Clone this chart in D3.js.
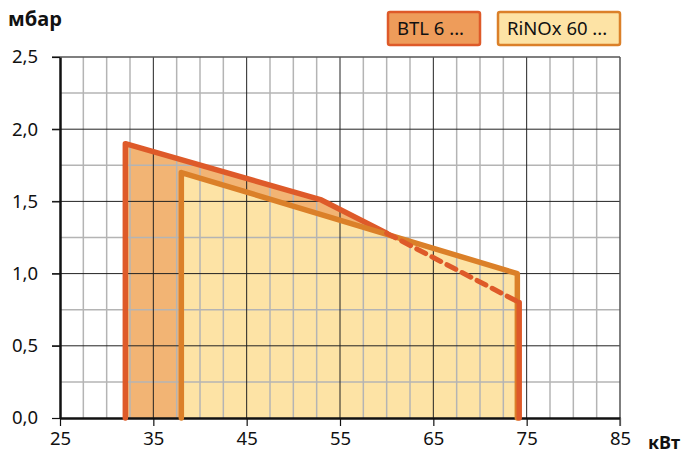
<!DOCTYPE html>
<html lang="ru">
<head>
  <meta charset="utf-8">
  <title>BTL / RiNOx</title>
  <script src="https://d3js.org/d3.v7.min.js"></script>
  <style>
    body { margin: 0; background: #fff; }
    text { font-family: "Noto Sans", "Open Sans", sans-serif; fill: #111; }
  </style>
</head>
<body>
  <script>
    // данные (кВт, мбар)
    var btlSolid = [[32, 0], [32, 1.9], [53, 1.51], [60, 1.28]];
    var btlDashed = [[60, 1.28], [74.2, 0.8]];
    var btlEdge = [[74.2, 0.8], [74.2, 0]];
    var rinox = [[38, 0], [38, 1.7], [74, 1.0], [74, 0]];
    var xTicks = [25, 35, 45, 55, 65, 75, 85];
    var yTicks = [0, 0.5, 1.0, 1.5, 2.0, 2.5];
    var legend = ['BTL 6 ...', 'RiNOx 60 ...'];

    var w = 683, h = 453;
    var margin = {top: 57, right: 63, bottom: 35, left: 60};
    var innerW = w - margin.left - margin.right,
      innerH = h - margin.top - margin.bottom;

    var x = d3.scaleLinear().domain([25, 85]).range([0, innerW]);
    var y = d3.scaleLinear().domain([0, 2.5]).range([innerH, 0]);

    var svg = d3.select('body').append('svg')
      .attr('width', w)
      .attr('height', h);
    var g = svg.append('g')
      .attr('transform', 'translate(' + [margin.left, margin.top] + ')');

    var line = d3.line().x(function(d){return x(d[0])}).y(function(d){return y(d[1])});

    // заливки
    var btlArea = btlSolid.concat(btlDashed.slice(1)).concat([[74.2, 0]]);
    g.append('path').attr('d', line(btlArea) + 'Z').attr('fill', '#f2b474');
    g.append('path').attr('d', line(rinox) + 'Z').attr('fill', '#fde3a5');

    // сетка
    var minorX = d3.range(27.5, 85, 2.5).filter(function(v){return (v - 25) % 10 !== 0});
    var majorX = d3.range(35, 85, 10);
    var minorY = d3.range(0.25, 2.5, 0.5);
    var majorY = [0.5, 1.0, 1.5, 2.0];

    g.selectAll('.vminor').data(minorX).enter().append('line')
      .attr('x1', x).attr('x2', x).attr('y1', 0).attr('y2', innerH)
      .attr('stroke', '#b4b4b4').attr('stroke-width', 1.5);
    g.selectAll('.hminor').data(minorY).enter().append('line')
      .attr('x1', 0).attr('x2', innerW).attr('y1', y).attr('y2', y)
      .attr('stroke', '#b4b4b4').attr('stroke-width', 1.5);
    g.selectAll('.vmajor').data(majorX).enter().append('line')
      .attr('x1', x).attr('x2', x).attr('y1', 0).attr('y2', innerH)
      .attr('stroke', '#222').attr('stroke-width', 1);
    g.selectAll('.hmajor').data(majorY).enter().append('line')
      .attr('x1', -8).attr('x2', innerW).attr('y1', y).attr('y2', y)
      .attr('stroke', '#222').attr('stroke-width', 1);
    // рамка
    g.append('line').attr('x1', -8).attr('x2', innerW).attr('y1', 0).attr('y2', 0)
      .attr('stroke', '#555').attr('stroke-width', 1.5);
    g.append('line').attr('x1', innerW).attr('x2', innerW).attr('y1', 0).attr('y2', innerH + 8)
      .attr('stroke', '#555').attr('stroke-width', 1.5);

    // оси
    var xAxis = g.append('g').attr('transform', 'translate(0,' + innerH + ')')
      .call(d3.axisBottom(x).tickValues(xTicks).tickSize(8).tickSizeOuter(0).tickPadding(6));
    var yAxis = g.append('g')
      .call(d3.axisLeft(y).tickValues(yTicks).tickSize(8).tickSizeOuter(0).tickPadding(14)
        .tickFormat(function(d){return d3.format('.1f')(d).replace('.', ',')}));
    [xAxis, yAxis].forEach(function(a) {
      a.select('.domain').attr('stroke', '#111').attr('stroke-width', 2.5);
      a.selectAll('.tick line').attr('stroke', '#111').attr('stroke-width', 1.2);
      a.selectAll('.tick text').style('font-size', '18.5px').attr('fill', '#111');
    });
    xAxis.selectAll('.tick').filter(function(d){return d === 85}).select('line').attr('stroke', '#555');

    // контуры
    g.append('path').attr('d', line(btlSolid)).attr('fill', 'none')
      .attr('stroke', '#de5a29').attr('stroke-width', 5.5)
      .attr('stroke-linejoin', 'round').attr('stroke-linecap', 'round');
    g.append('path').attr('d', line(rinox)).attr('fill', 'none')
      .attr('stroke', '#db8029').attr('stroke-width', 5.5)
      .attr('stroke-linejoin', 'round').attr('stroke-linecap', 'round');
    g.append('path').attr('d', line(btlDashed)).attr('fill', 'none')
      .attr('stroke', '#de5a29').attr('stroke-width', 5)
      .attr('stroke-dasharray', '10,7').attr('stroke-linecap', 'round');
    g.append('path').attr('d', line(btlEdge)).attr('fill', 'none')
      .attr('stroke', '#de5a29').attr('stroke-width', 5.5)
      .attr('stroke-linecap', 'round');

    // подписи осей
    svg.append('text').attr('x', 8).attr('y', 26).text('мбар')
      .style('font-size', '20px').style('font-weight', 'bold');
    svg.append('text').attr('x', 680).attr('y', 449).attr('text-anchor', 'end').text('кВт')
      .style('font-size', '18px').style('font-weight', 'bold');

    // легенда
    var legBoxes = [
      {x: 388, w: 92, fill: '#ee9c5a', stroke: '#de5a29'},
      {x: 498, w: 122, fill: '#fde3a5', stroke: '#db8029'}
    ];
    var leg = svg.selectAll('.leg').data(legend).enter().append('g')
      .attr('transform', function(d, i){return 'translate(' + legBoxes[i].x + ',12)'});
    leg.append('rect').attr('width', function(d, i){return legBoxes[i].w}).attr('height', 33)
      .attr('rx', 2).attr('fill', function(d, i){return legBoxes[i].fill})
      .attr('stroke', function(d, i){return legBoxes[i].stroke}).attr('stroke-width', 2.5);
    leg.append('text').attr('x', 9).attr('y', 23).text(function(d){return d})
      .style('font-size', '18.5px');
  </script>
</body>
</html>
